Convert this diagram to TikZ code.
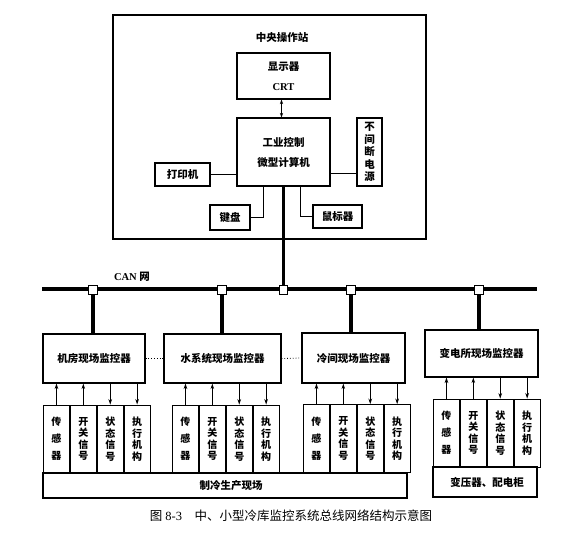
\documentclass[tikz,border=0pt]{standalone}
\usepackage{fontspec}
\setmainfont{Liberation Serif}
\newfontfamily\cjk{Noto Sans CJK SC}
\usetikzlibrary{arrows.meta}
\tikzset{
  box/.style={draw, line width=1.1pt, inner sep=0pt, align=center,
    font=\cjk\bfseries\fontsize{10.5}{20}\selectfont},
  cellbox/.style={draw, line width=0.9pt, inner sep=0pt, align=center,
    minimum width=26pt, minimum height=68pt, font=\cjk\bfseries\fontsize{10}{11.5}\selectfont},
  cellsparse/.style={cellbox, font=\cjk\bfseries\fontsize{10}{17}\selectfont},
  link/.style={line width=0.9pt},
  bus/.style={line width=3.2pt},
  junction/.style={draw, fill=white, line width=0.9pt, inner sep=0pt, minimum size=8.5pt},
  sig/.style={line width=0.9pt, -{Stealth[length=5.5pt,width=3.6pt]}},
  lbl/.style={inner sep=0pt, font=\cjk\bfseries\fontsize{10.5}{12}\selectfont}
}
\newcommand\mkcells[4]{%
  \node[cellsparse, anchor=west] (#1a) at (#2,#3) {传\\感\\器};
  \node[cellbox, anchor=west] (#1b) at (#1a.east) {开\\关\\信\\号};
  \node[cellbox, anchor=west] (#1c) at (#1b.east) {状\\态\\信\\号};
  \node[cellbox, anchor=west] (#1d) at (#1c.east) {执\\行\\机\\构};
  \draw[sig] (#1a.north) -- (#1a.north |- #4.south);
  \draw[sig] (#1b.north) -- (#1b.north |- #4.south);
  \draw[sig] (#1c.north |- #4.south) -- (#1c.north);
  \draw[sig] (#1d.north |- #4.south) -- (#1d.north);
}
\begin{document}
\begin{tikzpicture}[x=1pt,y=-1pt]
\useasboundingbox (0,0) rectangle (564,536);

% central operator station
\node[draw, line width=1.1pt, minimum width=313pt, minimum height=224pt, inner sep=0pt] (outer) at (269.5,127) {};
\node[lbl] (title) at (282,38) {中央操作站};
\node[box, minimum width=93pt, minimum height=46pt] (disp) at (283.5,76) {显示器\\{\rmfamily\bfseries CRT}};
\node[box, minimum width=93pt, minimum height=68pt] (comp) at (283.5,152) {工业控制\\微型计算机};
\node[box, minimum width=25pt, minimum height=68pt, font=\cjk\bfseries\fontsize{10.5}{12.5}\selectfont] (ups) at (369.5,152) {不\\间\\断\\电\\源};
\node[box, minimum width=55pt, minimum height=23pt] (printer) at (182.5,174.5) {打印机};
\node[box, minimum width=40pt, minimum height=25pt] (kbd) at (230,217.5) {键盘};
\node[box, minimum width=49pt, minimum height=23pt] (mouse) at (337.5,216.5) {鼠标器};

\draw[line width=0.9pt, {Stealth[length=4.5pt,width=3.2pt]}-{Stealth[length=4.5pt,width=3.2pt]}] ([xshift=-2pt]disp.south) -- ([xshift=-2pt]comp.north);
\draw[link] (printer.east) -- (printer.east -| comp.west);
\draw[link] (comp.east |- 0,173) -- (ups.west |- 0,173);
\draw[link] (kbd.east) -| ([xshift=-20.5pt]comp.south);
\draw[link] ([xshift=16.5pt]comp.south) |- (mouse.west);

% CAN bus
\coordinate (busL) at (42,289);
\coordinate (busR) at (537,289);
\draw[bus] (busL) -- (busR);
\node[lbl, font=\bfseries\fontsize{10.5}{12}\selectfont] (can) at (132,277) {CAN {\cjk\bfseries 网}};

% field supervisors
\node[box, minimum width=102pt, minimum height=49pt] (s1) at (94,358.5) {机房现场监控器};
\node[box, minimum width=117pt, minimum height=49pt] (s2) at (222.5,358.5) {水系统现场监控器};
\node[box, minimum width=103pt, minimum height=50pt] (s3) at (353.5,358) {冷间现场监控器};
\node[box, minimum width=113pt, minimum height=47pt] (s4) at (481.5,353.5) {变电所现场监控器};

\draw[bus] (comp.south) -- (comp.south |- busL);
\draw[bus] (93,289) -- (93 ,334);
\draw[bus] (222,289) -- (222,334);
\draw[bus] (351,289) -- (351,333);
\draw[bus] (479,289) -- (479,330);
\node[junction] (j1) at (93,290) {};
\node[junction] (j2) at (222,290) {};
\node[junction] (j3) at (283.5,290) {};
\node[junction] (j4) at (351,290) {};
\node[junction] (j5) at (479,290) {};

\draw[line width=0.8pt, dotted] (s1.east) -- (s2.west);
\draw[line width=0.8pt, dotted] (s2.east) -- (s3.west);

% field sites
\node[box, minimum width=364pt, minimum height=25pt] (field1) at (225,485.5) {\hspace*{12pt}制冷生产现场};
\node[box, minimum width=104pt, minimum height=30pt] (field2) at (485,482) {\hspace*{4pt}变压器、配电柜};

\mkcells{g1}{43}{439}{s1}
\mkcells{g2}{172}{439}{s2}
\mkcells{g3}{303}{438.5}{s3}
\mkcells{g4}{433}{433}{s4}

% caption
\node[inner sep=0pt, font=\fontsize{12.5}{14}\selectfont] (caption) at (291,516) {{\cjk 图} 8-3\quad{\cjk 中、小型冷库监控系统总线网络结构示意图}};
\end{tikzpicture}
\end{document}
